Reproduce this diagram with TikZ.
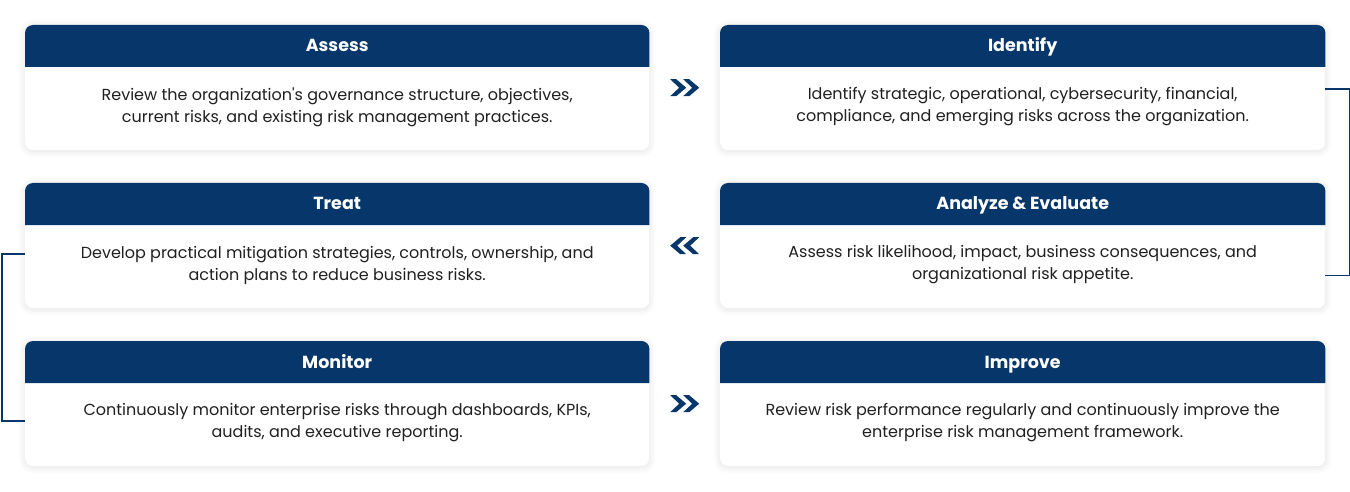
\documentclass[tikz,border=0pt]{standalone}
\usepackage{fontspec}
\setmainfont{Poppins}[Ligatures=TeXOff]
\usetikzlibrary{calc,shadows.blur}
\definecolor{navy}{RGB}{7,54,106}
\definecolor{ink}{RGB}{32,32,32}
\def\headh{42}
\def\bodyy{82}

% navy top bar of a card, with its title
\newcommand{\cardhead}[2]{%
	\fill[navy] ($(#1.north west)+(0,\headh)$) [rounded corners=8pt] -- (#1.north west) -- (#1.north east) [sharp corners] -- ($(#1.north east)+(0,\headh)$) -- cycle;
	\node[headtext] (#1-title) at ($(#1.north)+(0,27)$) {#2};
}

\begin{document}
\begin{tikzpicture}[x=1pt, y=-1pt]
	\tikzstyle{card} = [rectangle, rounded corners=8pt, fill=white, inner sep=0pt, minimum height=125pt, anchor=north west, blur shadow={shadow xshift=0pt, shadow yshift=-1pt, shadow blur radius=7pt, shadow blur steps=8, shadow opacity=12}]
	\tikzstyle{headtext} = [text=white, anchor=base, inner sep=0pt, font=\fontsize{17.5}{20}\selectfont\bfseries]
	\tikzstyle{bodytext} = [text=ink, align=center, font=\fontsize{16}{22}\selectfont]
	\tikzstyle{link} = [draw=navy, line width=1.5pt]
	\tikzset{chevs/.pic={
		\fill[navy] (-14.5,-8.5) -- (-8.5,-8.5) -- (1.5,0) -- (-8.5,8.5) -- (-14.5,8.5) -- (-5.5,0) -- cycle;
		\fill[navy] (-1.5,-8.5) -- (4.5,-8.5) -- (14.5,0) -- (4.5,8.5) -- (-1.5,8.5) -- (7.5,0) -- cycle;
	}}
	\useasboundingbox (0,0) rectangle (1350,492);

	%%Cards
	\node[card, minimum width=624pt] (assess) at (25, 25) {};
	\node[card, minimum width=605pt] (identify) at (720, 25) {};
	\node[card, minimum width=624pt] (treat) at (25, 183) {};
	\node[card, minimum width=605pt] (analyze) at (720, 183) {};
	\node[card, minimum width=624pt] (monitor) at (25, 341) {};
	\node[card, minimum width=605pt] (improve) at (720, 341) {};

	\cardhead{assess}{Assess}
	\cardhead{identify}{Identify}
	\cardhead{treat}{Treat}
	\cardhead{analyze}{Analyze \& Evaluate}
	\cardhead{monitor}{Monitor}
	\cardhead{improve}{Improve}

	%%Card texts
	\node[bodytext] (assess-text) at ($(assess.north)+(0,\bodyy)$) {Review the organization's governance structure, objectives,\\current risks, and existing risk management practices.};
	\node[bodytext] (identify-text) at ($(identify.north)+(0,\bodyy)$) {Identify strategic, operational, cybersecurity, financial,\\compliance, and emerging risks across the organization.};
	\node[bodytext] (treat-text) at ($(treat.north)+(0,\bodyy)$) {Develop practical mitigation strategies, controls, ownership, and\\action plans to reduce business risks.};
	\node[bodytext] (analyze-text) at ($(analyze.north)+(0,\bodyy)$) {Assess risk likelihood, impact, business consequences, and\\organizational risk appetite.};
	\node[bodytext] (monitor-text) at ($(monitor.north)+(0,\bodyy)$) {Continuously monitor enterprise risks through dashboards, KPIs,\\audits, and executive reporting.};
	\node[bodytext] (improve-text) at ($(improve.north)+(0,\bodyy)$) {Review risk performance regularly and continuously improve the\\enterprise risk management framework.};

	%%Chevrons between columns
	\pic (ch1) at ($(assess.east)!0.5!(identify.west)$) {chevs};
	\pic[xscale=-1] (ch2) at ($(treat.east)!0.5!(analyze.west)$) {chevs};
	\pic (ch3) at ($(monitor.east)!0.5!(improve.west)$) {chevs};

	%%Brackets
	\coordinate (r1) at ($(identify.north east)+(0,64)$);
	\coordinate (r2) at ($(analyze.south east)+(0,-33)$);
	\coordinate (l1) at ($(treat.north west)+(0,71)$);
	\coordinate (l2) at ($(monitor.north west)+(0,80)$);
	\draw[link] (r1) -- ++(24,0) |- (r2);
	\draw[link] (l1) -- ++(-23,0) |- (l2);
\end{tikzpicture}
\end{document}
